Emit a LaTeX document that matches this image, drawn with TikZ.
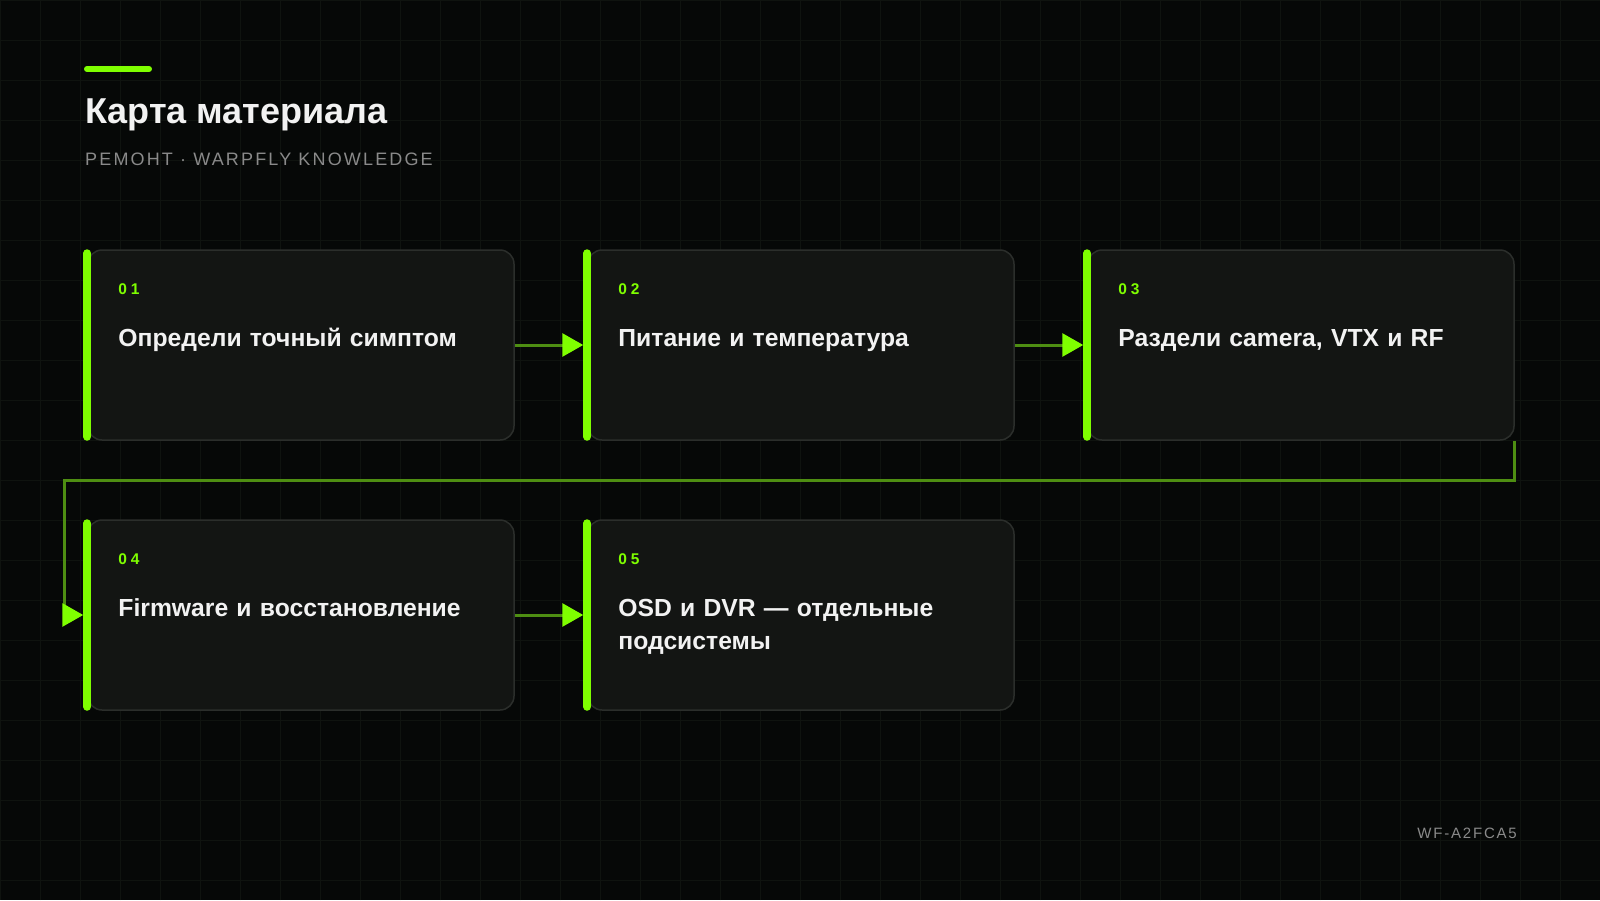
\documentclass[tikz,border=0pt]{standalone}
\usepackage{fontspec}
\setmainfont{Liberation Sans}
\newfontfamily\numfont[LetterSpace=25]{Liberation Sans}
\newfontfamily\capsfont[LetterSpace=12]{Liberation Sans}
\usetikzlibrary{positioning,arrows.meta}

\definecolor{bg}{HTML}{060807}
\definecolor{gridline}{HTML}{0F130F}
\definecolor{card}{HTML}{131513}
\definecolor{cardline}{HTML}{2B2E2B}
\definecolor{accent}{HTML}{7FFF00}
\definecolor{wire}{HTML}{4E8E12}
\definecolor{ink}{HTML}{F2F2F2}
\definecolor{muted}{HTML}{8A8A8A}

\begin{document}
\begin{tikzpicture}[x=1pt,y=-1pt,node distance=500pt,on grid,
  card/.style={draw=cardline,fill=card,line width=1.5pt,rounded corners=14pt,
    minimum width=426pt,minimum height=190pt,inner sep=0pt},
  bar/.style={draw=accent,line width=8pt,line cap=round},
  num/.style={anchor=west,inner sep=0pt,text=accent,font=\numfont\bfseries\fontsize{15.5}{18}\selectfont},
  title/.style={anchor=base west,inner sep=0pt,text=ink,text width=390pt,align=left,
    font=\bfseries\fontsize{24.7}{33.5}\selectfont},
  wire/.style={draw=wire,line width=3pt,shorten >=4pt,
    -{Triangle[length=21pt,width=23pt,color=accent]}}]

  % background and grid
  \useasboundingbox (0,0) rectangle (1600,900);
  \fill[bg] (0,0) rectangle (1600,900);
  \draw[gridline,line width=1pt,step=40pt] (0,0) grid (1600,900);

  % header
  \draw[accent,line width=6pt,line cap=round] (87,69) -- (149,69);
  \node[anchor=base west,inner sep=0pt,text=ink,font=\bfseries\fontsize{36}{42}\selectfont] (head) at (85,123) {Карта материала};
  \node[anchor=base west,inner sep=0pt,text=muted,font=\capsfont\fontsize{18}{22}\selectfont] (sub) at (85,165) {РЕМОНТ · WARPFLY KNOWLEDGE};

  % cards
  \path
  node[card] (c_1) at (301,345) {}
  node[card] (c_2) [right=of c_1] {}
  node[card] (c_3) [right=of c_2] {}
  node[card] (c_4) [below=270pt of c_1] {}
  node[card] (c_5) [right=of c_4] {}
  ;
  \draw[bar] ([yshift=-4pt]c_1.north west) -- ([yshift=4pt]c_1.south west);
  \draw[bar] ([yshift=-4pt]c_2.north west) -- ([yshift=4pt]c_2.south west);
  \draw[bar] ([yshift=-4pt]c_3.north west) -- ([yshift=4pt]c_3.south west);
  \draw[bar] ([yshift=-4pt]c_4.north west) -- ([yshift=4pt]c_4.south west);
  \draw[bar] ([yshift=-4pt]c_5.north west) -- ([yshift=4pt]c_5.south west);

  \node[num] (n_1) at ([shift={(31pt,-40pt)}]c_1.north west) {01};
  \node[num] (n_2) at ([shift={(31pt,-40pt)}]c_2.north west) {02};
  \node[num] (n_3) at ([shift={(31pt,-40pt)}]c_3.north west) {03};
  \node[num] (n_4) at ([shift={(31pt,-40pt)}]c_4.north west) {04};
  \node[num] (n_5) at ([shift={(31pt,-40pt)}]c_5.north west) {05};

  \node[title] (t_1) at ([shift={(31pt,-97pt)}]c_1.north west) {Определи точный симптом};
  \node[title] (t_2) at ([shift={(31pt,-97pt)}]c_2.north west) {Питание и температура};
  \node[title] (t_3) at ([shift={(31pt,-97pt)}]c_3.north west) {Раздели camera, VTX и RF};
  \node[title] (t_4) at ([shift={(31pt,-97pt)}]c_4.north west) {Firmware и восстановление};
  \node[title] (t_5) at ([shift={(31pt,-97pt)}]c_5.north west) {OSD и DVR — отдельные подсистемы};

  % connectors
  \coordinate (turn) at (64,480);
  \path[wire]
  (c_1) edge (c_2)
  (c_2) edge (c_3)
  (c_4) edge (c_5)
  ;
  \draw[wire] (c_3.south east) |- (turn) |- (c_4.west);

  % footer
  \node[anchor=base east,inner sep=0pt,text=muted,font=\capsfont\fontsize{15}{18}\selectfont] (code) at (1517,838) {WF-A2FCA5};
\end{tikzpicture}
\end{document}
